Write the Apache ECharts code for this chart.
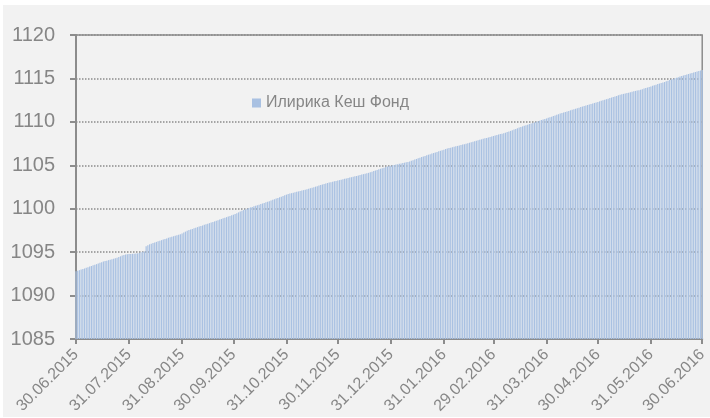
<!DOCTYPE html>
<html>
<head>
<meta charset="utf-8">
<script src="https://cdn.jsdelivr.net/npm/echarts@6/dist/echarts.min.js"></script>
<style>
  html, body { margin: 0; padding: 0; background: #ffffff; }
  #main { position: absolute; left: 3px; top: 5px; width: 707px; height: 412px; background: #f2f2f2; }
</style>
</head>
<body>
<div id="main"></div>
<script>
// daily values of the fund, month by month
var jun2015 = [1092.80];
var jul2015 = [1092.87,1092.93,1093.00,1093.06,1093.12,1093.19,1093.27,1093.34,1093.41,1093.48,1093.55,1093.62,1093.70,1093.77,1093.85,1093.92,1093.97,1094.02,1094.08,1094.13,1094.19,1094.25,1094.30,1094.36,1094.44,1094.52,1094.60,1094.67,1094.74,1094.77,1094.79];
var aug2015 = [1094.80,1094.81,1094.82,1094.84,1094.86,1094.90,1094.98,1095.05,1095.08,1095.68,1095.80,1095.90,1095.97,1096.04,1096.11,1096.18,1096.25,1096.31,1096.38,1096.45,1096.52,1096.58,1096.65,1096.71,1096.77,1096.83,1096.89,1096.95,1097.01,1097.07,1097.16];
var sep2015 = [1097.26,1097.36,1097.46,1097.55,1097.61,1097.67,1097.74,1097.81,1097.88,1097.94,1098.01,1098.07,1098.14,1098.21,1098.27,1098.34,1098.41,1098.48,1098.54,1098.61,1098.68,1098.75,1098.82,1098.89,1098.96,1099.03,1099.10,1099.17,1099.24,1099.31];
var oct2015 = [1099.40,1099.49,1099.58,1099.67,1099.76,1099.84,1099.92,1100.00,1100.08,1100.15,1100.21,1100.28,1100.34,1100.41,1100.47,1100.54,1100.60,1100.67,1100.73,1100.80,1100.87,1100.94,1101.02,1101.09,1101.17,1101.24,1101.32,1101.39,1101.47,1101.54,1101.62];
var nov2015 = [1101.69,1101.74,1101.79,1101.84,1101.89,1101.94,1101.99,1102.04,1102.09,1102.14,1102.19,1102.24,1102.30,1102.36,1102.42,1102.48,1102.54,1102.60,1102.66,1102.72,1102.78,1102.84,1102.90,1102.96,1103.01,1103.06,1103.10,1103.15,1103.20,1103.24];
var dec2015 = [1103.29,1103.34,1103.39,1103.44,1103.48,1103.53,1103.58,1103.63,1103.68,1103.73,1103.78,1103.83,1103.88,1103.93,1103.98,1104.03,1104.08,1104.13,1104.20,1104.27,1104.33,1104.40,1104.47,1104.53,1104.60,1104.66,1104.73,1104.79,1104.86,1104.91,1104.96];
var jan2016 = [1105.00,1105.04,1105.09,1105.13,1105.17,1105.21,1105.26,1105.30,1105.34,1105.38,1105.45,1105.52,1105.59,1105.66,1105.73,1105.80,1105.87,1105.94,1106.01,1106.08,1106.15,1106.22,1106.28,1106.35,1106.41,1106.48,1106.54,1106.61,1106.67,1106.74,1106.80];
var feb2016 = [1106.87,1106.93,1106.98,1107.03,1107.08,1107.13,1107.18,1107.23,1107.28,1107.33,1107.38,1107.43,1107.48,1107.54,1107.60,1107.65,1107.71,1107.77,1107.82,1107.88,1107.94,1107.99,1108.05,1108.10,1108.15,1108.21,1108.26,1108.32,1108.37];
var mar2016 = [1108.43,1108.48,1108.54,1108.59,1108.64,1108.70,1108.75,1108.82,1108.89,1108.96,1109.04,1109.11,1109.19,1109.26,1109.34,1109.41,1109.48,1109.55,1109.62,1109.68,1109.75,1109.81,1109.88,1109.94,1110.01,1110.07,1110.14,1110.20,1110.26,1110.33,1110.39];
var apr2016 = [1110.46,1110.53,1110.60,1110.67,1110.74,1110.81,1110.88,1110.95,1111.02,1111.08,1111.14,1111.20,1111.26,1111.33,1111.39,1111.45,1111.51,1111.57,1111.63,1111.70,1111.76,1111.82,1111.88,1111.94,1112.00,1112.06,1112.12,1112.18,1112.24,1112.30];
var may2016 = [1112.36,1112.42,1112.48,1112.55,1112.61,1112.67,1112.74,1112.80,1112.87,1112.93,1112.99,1113.06,1113.12,1113.17,1113.22,1113.27,1113.31,1113.36,1113.41,1113.46,1113.51,1113.56,1113.60,1113.65,1113.70,1113.76,1113.83,1113.89,1113.95,1114.02,1114.08];
var jun2016 = [1114.15,1114.22,1114.28,1114.35,1114.41,1114.47,1114.54,1114.60,1114.67,1114.74,1114.81,1114.87,1114.94,1115.01,1115.08,1115.15,1115.22,1115.28,1115.34,1115.40,1115.46,1115.51,1115.57,1115.63,1115.69,1115.74,1115.80,1115.86,1115.92,1115.98];

var tickLabels = ['30.06.2015','31.07.2015','31.08.2015','30.09.2015','31.10.2015','30.11.2015',
  '31.12.2015','31.01.2016','29.02.2016','31.03.2016','30.04.2016','31.05.2016','30.06.2016'];
var seriesName = 'Илирика Кеш Фонд';

var values = [].concat(jun2015, jul2015, aug2015, sep2015, oct2015, nov2015, dec2015,
  jan2016, feb2016, mar2016, apr2016, may2016, jun2016);

// one category per calendar day, starting 30.06.2015
function pad(n) { return n < 10 ? '0' + n : '' + n; }
var dates = [];
var d = new Date(2015, 5, 30);
for (var i = 0; i < values.length; i++) {
  dates.push(pad(d.getDate()) + '.' + pad(d.getMonth() + 1) + '.' + d.getFullYear());
  d.setDate(d.getDate() + 1);
}

function isTick(index, value) {
  return tickLabels.indexOf(value) >= 0;
}

var gray = '#868686';
var chart = echarts.init(document.getElementById('main'));

var option = {
  animation: false,
  textStyle: { fontFamily: 'Liberation Sans, Arial, sans-serif' },
  legend: {
    left: 244,
    top: 85,
    icon: 'rect',
    itemWidth: 9,
    itemHeight: 9,
    itemGap: 4,
    textStyle: { color: gray, fontSize: 16 },
    data: [seriesName]
  },
  grid: {
    left: 73,
    right: 2,
    top: 30,
    bottom: 78,
    show: true,
    borderColor: '#8c8c8c',
    borderWidth: 1.5,
    containLabel: false
  },
  xAxis: {
    type: 'category',
    data: dates,
    boundaryGap: false,
    axisLine: { lineStyle: { color: '#8c8c8c', width: 2 } },
    axisTick: { interval: isTick, length: 5, lineStyle: { color: '#8c8c8c', width: 2 } },
    axisLabel: {
      interval: isTick,
      rotate: 45,
      margin: 13,
      color: gray,
      fontSize: 16
    },
    splitLine: { show: false }
  },
  yAxis: {
    type: 'value',
    min: 1085,
    max: 1120,
    interval: 5,
    axisLine: { show: true, lineStyle: { color: '#8c8c8c', width: 2 } },
    axisTick: { show: true, length: 6, lineStyle: { color: '#8c8c8c', width: 2 } },
    axisLabel: {
      color: gray,
      fontSize: 20,
      margin: 21,
      formatter: function (v) { return String(v); }
    },
    splitLine: { lineStyle: { color: '#8c8c8c', type: 'dotted', width: 1.5 } }
  },
  series: [
    {
      name: seriesName,
      type: 'bar',
      data: values,
      barCategoryGap: '30%',
      itemStyle: { color: '#a9c1e2' },
      clip: true
    }
  ]
};

chart.setOption(option);
</script>
</body>
</html>
